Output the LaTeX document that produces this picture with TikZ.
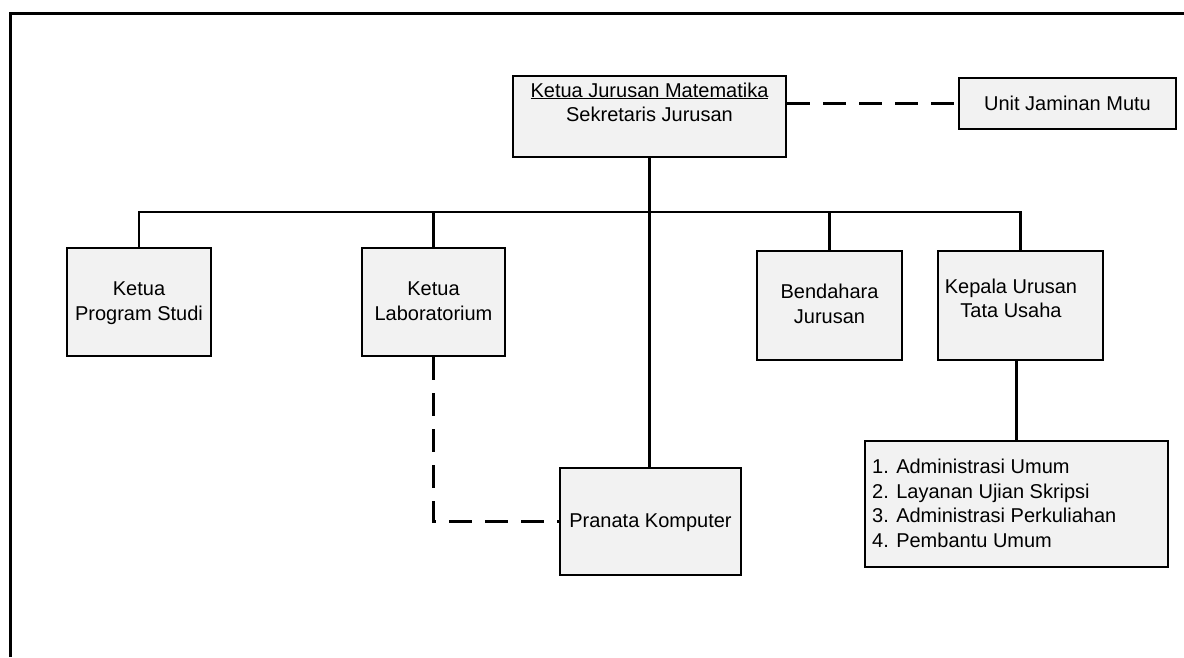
\documentclass[tikz,border=0pt]{standalone}
\usepackage{fontspec}
\setmainfont{Liberation Sans}
\definecolor{boxfill}{RGB}{242,242,242}
\begin{document}
\begin{tikzpicture}[x=1pt,y=-1pt,
  box/.style={draw=black, fill=boxfill, line width=2.6pt, inner sep=0pt},
  lbl/.style={font=\fontsize{20}{24.5}\selectfont, align=center, inner sep=0pt, anchor=base},
  conn/.style={line width=2.8pt},
  dconn/.style={line width=2.8pt, dash pattern=on 23pt off 13pt},
  frameline/.style={line width=3pt}]
\useasboundingbox (0,0) rectangle (1184,657);
% outer frame
\coordinate (fbl) at (10,657);
\coordinate (ftl) at (10,13);
\coordinate (ftr) at (1184,13);
\draw[frameline] (fbl) -- (ftl) -- (ftr);
% boxes
\node[box, minimum width=273pt, minimum height=81pt] (top) at (649.5,116.5) {};
\node[box, minimum width=217pt, minimum height=51pt] (unit) at (1067.5,103.5) {};
\node[box, minimum width=144pt, minimum height=108pt] (kps) at (139,302) {};
\node[box, minimum width=143pt, minimum height=108pt] (klab) at (433.5,302) {};
\node[box, minimum width=145pt, minimum height=109pt] (bend) at (829.5,305.5) {};
\node[box, minimum width=165pt, minimum height=109pt] (kepala) at (1020.5,305.5) {};
\node[box, minimum width=303pt, minimum height=126pt] (list) at (1016.5,504) {};
\node[box, minimum width=181pt, minimum height=107pt] (pranata) at (650.5,521.5) {};
% labels (anchor = baseline of the last line)
\node[lbl] (ttop) at (649.5,121.5) {\underline{Ketua Jurusan Matematika}\\Sekretaris Jurusan};
\node[lbl] (tunit) at (1067.5,110) {Unit Jaminan Mutu};
\node[lbl] (tkps) at (139,320) {Ketua\\Program Studi};
\node[lbl] (tklab) at (433.5,320) {Ketua\\Laboratorium};
\node[lbl] (tbend) at (829.5,323) {Bendahara\\Jurusan};
\node[lbl] (tkepala) at (1011,317.5) {Kepala Urusan\\Tata Usaha};
\node[lbl, align=left, anchor=base west] (tlist) at (872,547) {1. Administrasi Umum\\2. Layanan Ujian Skripsi\\3. Administrasi Perkuliahan\\4. Pembantu Umum};
\node[lbl] (tpranata) at (650.5,527) {Pranata Komputer};
% connectors
\coordinate (bus) at (0,212);
\draw[conn] (top.south) -- (top.south |- pranata.north);
\draw[conn] (kps.north) |- (kepala.north |- bus) -- (kepala.north);
\draw[conn] (klab.north) -- (klab.north |- bus);
\draw[conn] (bend.north) -- (bend.north |- bus);
\draw[conn] (list.north) -- (list.north |- kepala.south);
\draw[dconn] (top.east |- unit.west) -- (unit.west);
\draw[dconn] (klab.south) |- (pranata.west);
\end{tikzpicture}
\end{document}
